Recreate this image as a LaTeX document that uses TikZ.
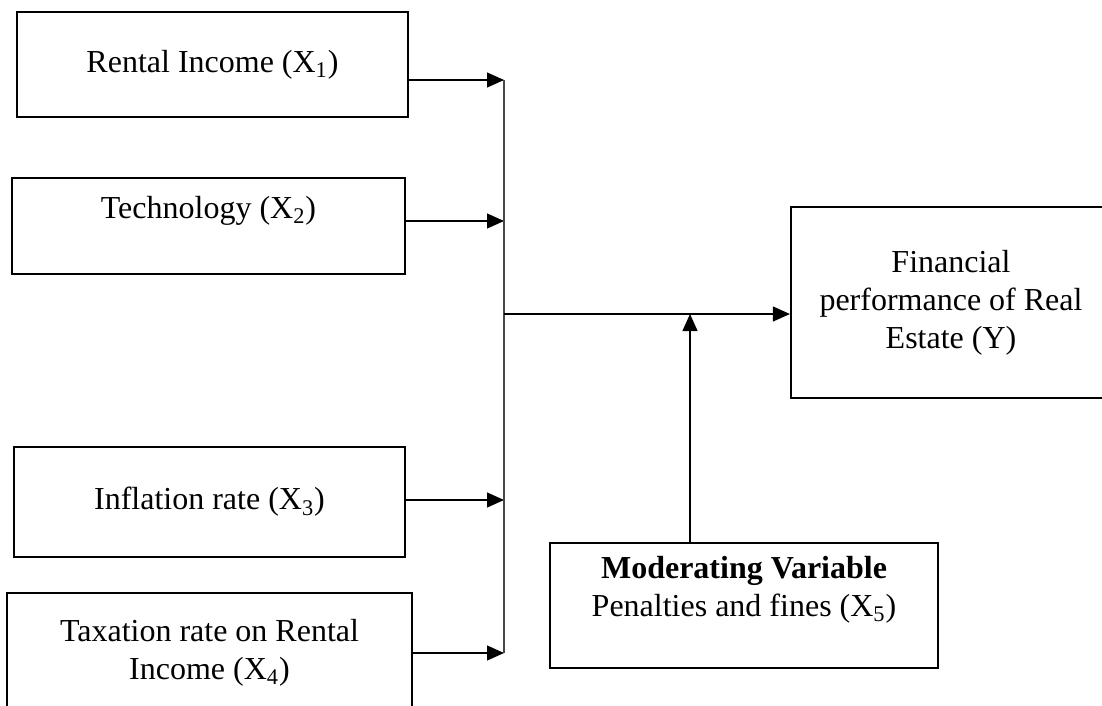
\documentclass[tikz,border=0pt]{standalone}
\usepackage{fontspec}
\setmainfont{Liberation Serif}
\usepackage{tikz}
\definecolor{bus}{RGB}{70, 70, 70}
\usetikzlibrary{positioning}
\usetikzlibrary{arrows.meta}

\begin{document}
\begin{tikzpicture}
				[x=0.5pt,y=-0.5pt,
				every node/.style={inner sep=0pt, font=\fontsize{16}{19}\selectfont, align=center},
				varbox/.style={rectangle, draw=black, line width=1.1pt},
				link/.style={line width=0.55pt, color=black},
				>={Triangle[length=8.5pt,width=7.5pt]}]
				\useasboundingbox (0,0) rectangle (1102,706);
				\clip (0,0) rectangle (1102,706);
				% independent variables
				\node (x1) [varbox, minimum width=195.5pt, minimum height=52.5pt] at (212.5, 64.5) {Rental Income (X\textsubscript{1})};
				\node (x2) [varbox, minimum width=196.5pt, minimum height=48pt] at (208.5, 226) {Technology (X\textsubscript{2})\\ \mbox{}};
				\node (x3) [varbox, minimum width=195.5pt, minimum height=55pt] at (209.5, 502) {Inflation rate (X\textsubscript{3})};
				\node (x4) [varbox, minimum width=202.5pt, minimum height=59.5pt] at (209.5, 652.5) {Taxation rate on Rental\\ Income (X\textsubscript{4})};
				% dependent and moderating variable
				\node (y) [varbox, minimum width=160pt, minimum height=95.5pt] at (951, 302.5) {Financial\\ performance of Real\\ Estate (Y)};
				\node (mod) [varbox, minimum width=194pt, minimum height=62.5pt] at (744, 605.5) {\textbf{Moderating Variable}\\ Penalties and fines (X\textsubscript{5})\\ \mbox{}};
				% points on the bus
				\coordinate (b1) at (504, 80);
				\coordinate (b2) at (504, 221);
				\coordinate (b3) at (504, 500);
				\coordinate (b4) at (504, 653);
				\coordinate (hub) at (504, 314);
				\coordinate (m) at (690, 314);
				\draw [->, link] (b1 -| x1.east) to (b1);
				\draw [->, link] (b2 -| x2.east) to (b2);
				\draw [->, link] (b3 -| x3.east) to (b3);
				\draw [->, link] (b4 -| x4.east) to (b4);
				\draw [link, color=bus] (b1) to (b4);
				\draw [->, link] (hub) to (hub -| y.west);
				\draw [->, link] (m |- mod.north) to (m);
		\end{tikzpicture}
\end{document}
